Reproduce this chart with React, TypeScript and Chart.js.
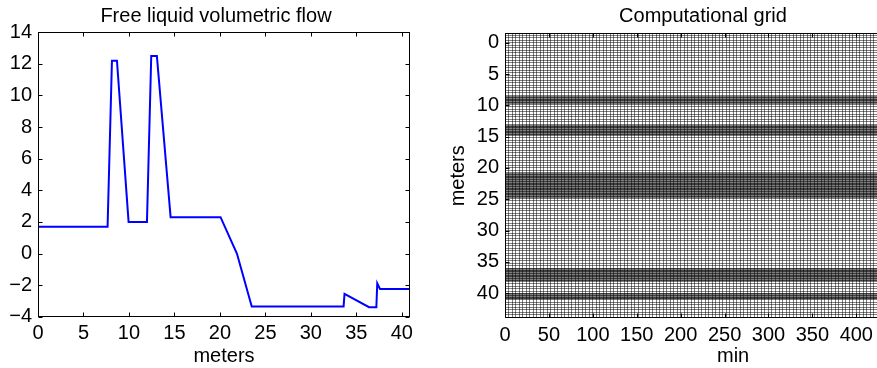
import React, { useEffect, useRef } from "react";
import { Chart, registerables } from "chart.js";
Chart.register(...registerables);

// ---- Left plot: free liquid volumetric flow ----
const flowX = [0, 7.65, 8.13, 8.68, 9.96, 11.98, 12.45, 13.07, 14.58, 20.07, 21.87, 23.5, 33.6, 33.7, 36.4, 37.2, 37.3, 37.6, 40.9];
const flowY = [1.7, 1.7, 12.2, 12.2, 2.0, 2.0, 12.5, 12.5, 2.3, 2.3, 0, -3.35, -3.35, -2.56, -3.4, -3.4, -1.89, -2.25, -2.25];
const flowXTicks = [0, 5, 10, 15, 20, 25, 30, 35, 40];
const flowYTicks = [-4, -2, 0, 2, 4, 6, 8, 10, 12, 14];

// ---- Right plot: computational grid ----
const gridTimeTicks = [0, 50, 100, 150, 200, 250, 300, 350, 400, 450, 500];
const gridDepthTicks = [0, 5, 10, 15, 20, 25, 30, 35, 40];
const gridTimes = [
  0, 4, 8, 12, 16, 20, 24, 28, 32, 36, 40, 44, 48, 52, 56, 60, 64, 68, 72, 76, 80, 84, 88, 92, 96,
  100, 104, 108, 112, 116, 120, 124, 128, 132, 136, 140, 144, 148, 152, 156, 160, 164, 168, 172, 176,
  180, 184, 188, 192, 196, 200, 204, 208, 212, 216, 220, 224, 228, 232, 236, 240, 244, 248, 252, 256,
  260, 264, 268, 272, 276, 280, 284, 288, 292, 296, 300, 304, 308, 312, 316, 320, 324, 328, 332, 336,
  340, 344, 348, 352, 356, 360, 364, 368, 372, 376, 380, 384, 388, 392, 396, 400, 404, 408, 412, 416,
  420, 424, 428, 432, 436, 440, 444, 448, 452, 456, 460, 464, 468, 472, 476, 480, 484, 488, 492, 496,
  500, 504, 508, 512, 516, 520,
];
const gridDepths = [
  -1.2, -0.8, -0.4, 0, 0.4, 0.8, 1.2, 1.6, 2, 2.4, 2.8, 3.2, 3.6, 4, 4.4, 4.8, 5.2, 5.6, 6, 6.4, 6.8, 7.2, 7.6, 8, 8.4,
  8.6, 8.7, 8.8, 8.9, 9, 9.1, 9.2, 9.3, 9.4, 9.5, 9.6, 9.7, 9.8,
  10.2, 10.6, 11, 11.4, 11.8, 12.2, 12.6,
  13.1, 13.2, 13.3, 13.4, 13.5, 13.6, 13.7, 13.8, 13.9, 14, 14.1, 14.2, 14.3, 14.4, 14.5, 14.6, 14.7, 14.8,
  15.2, 15.6, 16, 16.4, 16.8, 17.2, 17.6, 18, 18.4, 18.8, 19.2, 19.6, 20, 20.4,
  20.8, 20.9, 21, 21.1, 21.2, 21.3, 21.4, 21.5, 21.6, 21.7, 21.8, 21.9, 22, 22.1, 22.2, 22.3, 22.4, 22.5,
  22.6, 22.7, 22.8, 22.9, 23, 23.1, 23.2, 23.3, 23.4, 23.5, 23.6, 23.7, 23.8, 23.9, 24, 24.1, 24.2, 24.3,
  24.4, 24.5, 24.6, 24.7, 24.8,
  25.2, 25.6, 26, 26.4, 26.8, 27.2, 27.6, 28, 28.4, 28.8, 29.2, 29.6, 30, 30.4, 30.8, 31.2, 31.6, 32, 32.4,
  32.8, 33.2, 33.6, 34, 34.4, 34.8, 35.2, 35.6,
  36, 36.1, 36.2, 36.3, 36.4, 36.5, 36.6, 36.7, 36.8, 36.9, 37, 37.1, 37.2, 37.3, 37.4, 37.5, 37.6, 37.7,
  37.8, 37.9, 38, 38.1,
  38.5, 38.9, 39.3, 39.7,
  40, 40.1, 40.2, 40.3, 40.4, 40.5, 40.6, 40.7, 40.8, 40.9, 41,
  41.4, 41.8, 42.2, 42.6, 43, 43.4, 43.8,
];

const FONT = { family: '"Liberation Sans", Arial, Helvetica, sans-serif', size: 20 };
const fmt = (v: number) => (v < 0 ? "\u2212" + Math.abs(v) : String(v));

const frameTicks = {
  id: "frameTicks",
  afterDraw(chart: any, _args: any, opts: any) {
    const { ctx, chartArea: a } = chart;
    const xs = chart.scales[opts.xId];
    const ys = chart.scales[opts.yId];
    const L = Math.round(a.left) + 0.5;
    const R = Math.round(a.right) - 0.5;
    const T = Math.round(a.top) + 0.5;
    const B = Math.round(a.bottom) - 0.5;
    const len = 4;
    ctx.save();
    ctx.strokeStyle = "#000";
    ctx.lineWidth = 1;
    ctx.strokeRect(L, T, R - L, B - T);
    ctx.beginPath();
    xs.ticks.forEach((t: any) => {
      const x = Math.round(xs.getPixelForValue(t.value)) + 0.5;
      ctx.moveTo(x, B);
      ctx.lineTo(x, B - len);
      ctx.moveTo(x, T);
      ctx.lineTo(x, T + len);
    });
    ys.ticks.forEach((t: any) => {
      const y = Math.round(ys.getPixelForValue(t.value)) + 0.5;
      ctx.moveTo(L, y);
      ctx.lineTo(L + len, y);
      ctx.moveTo(R, y);
      ctx.lineTo(R - len, y);
    });
    ctx.stroke();
    ctx.restore();
  },
};

const setTicks = (arr: number[]) => (s: any) => {
  s.ticks = arr.map((v) => ({ value: v }));
};

export default function App() {
  const leftRef = useRef<HTMLCanvasElement>(null);
  const rightRef = useRef<HTMLCanvasElement>(null);

  useEffect(() => {
    const left = new Chart(leftRef.current as HTMLCanvasElement, {
      type: "line",
      data: {
        datasets: [
          {
            data: flowX.map((x, i) => ({ x, y: flowY[i] })),
            borderColor: "#0000ff",
            borderWidth: 2,
            pointRadius: 0,
            tension: 0,
            fill: false,
          },
        ],
      },
      options: {
        responsive: false,
        animation: false,
        layout: { padding: { left: 0, right: 0, top: 0, bottom: 0 } },
        plugins: {
          legend: { display: false },
          tooltip: { enabled: false },
          title: {
            display: true,
            text: "Free liquid volumetric flow",
            color: "#000",
            font: { ...FONT, weight: "normal" },
            padding: { top: 4.7, bottom: 3.6 },
          },
          frameTicks: { xId: "x", yId: "y" },
        } as any,
        scales: {
          x: {
            type: "linear",
            min: 0,
            max: 40.9,
            afterBuildTicks: setTicks(flowXTicks),
            afterFit: (s: any) => {
              s.height = 51.3;
            },
            grid: { display: false, drawTicks: false },
            border: { display: false },
            ticks: { color: "#000", font: FONT, padding: 5, maxRotation: 0, autoSkip: false, callback: (v: any) => fmt(v) },
            title: { display: true, text: "meters", color: "#000", font: FONT, padding: { top: 0, bottom: 0 } },
          },
          y: {
            type: "linear",
            position: "left",
            min: -4,
            max: 14,
            afterBuildTicks: setTicks(flowYTicks),
            afterFit: (s: any) => {
              s.width = 38;
            },
            grid: { display: false, drawTicks: false },
            border: { display: false },
            ticks: { color: "#000", font: FONT, padding: 6, autoSkip: false, callback: (v: any) => fmt(v) },
          },
          yr: {
            type: "linear",
            position: "right",
            min: -4,
            max: 14,
            afterFit: (s: any) => {
              s.width = 22;
            },
            grid: { display: false, drawTicks: false },
            border: { display: false },
            ticks: { display: false },
          },
        },
      },
      plugins: [frameTicks],
    });

    const right = new Chart(rightRef.current as HTMLCanvasElement, {
      type: "scatter",
      data: { datasets: [{ data: [], xAxisID: "x", yAxisID: "y" }] },
      options: {
        responsive: false,
        animation: false,
        layout: { padding: { left: 0, right: 0, top: 0, bottom: 0 } },
        plugins: {
          legend: { display: false },
          tooltip: { enabled: false },
          title: {
            display: true,
            text: "Computational grid",
            color: "#000",
            font: { ...FONT, weight: "normal" },
            padding: { top: 4.7, bottom: 4.6 },
          },
          frameTicks: { xId: "x", yId: "y" },
        } as any,
        scales: {
          xg: {
            type: "linear",
            position: "bottom",
            min: 0,
            max: 519.5,
            afterBuildTicks: setTicks(gridTimes),
            grid: { color: "rgba(0,0,0,0.5)", lineWidth: 1, drawTicks: false },
            border: { display: false },
            ticks: { display: false, autoSkip: false },
          },
          x: {
            type: "linear",
            position: "bottom",
            min: 0,
            max: 519.5,
            afterBuildTicks: setTicks(gridTimeTicks),
            afterFit: (s: any) => {
              s.height = 49.7;
            },
            grid: { display: false, drawTicks: false },
            border: { display: false },
            ticks: { color: "#000", font: FONT, padding: 5, maxRotation: 0, autoSkip: false },
            title: { display: true, text: "min", color: "#000", font: FONT, padding: { top: 0, bottom: 0 } },
          },
          yg: {
            type: "linear",
            position: "left",
            reverse: true,
            min: -1.5,
            max: 44,
            afterBuildTicks: setTicks(gridDepths),
            grid: { color: "rgba(0,0,0,0.5)", lineWidth: 1, drawTicks: false },
            border: { display: false },
            ticks: { display: false, autoSkip: false },
          },
          y: {
            type: "linear",
            position: "left",
            reverse: true,
            min: -1.5,
            max: 44,
            afterBuildTicks: setTicks(gridDepthTicks),
            afterFit: (s: any) => {
              s.width = 65;
            },
            grid: { display: false, drawTicks: false },
            border: { display: false },
            ticks: { color: "#000", font: FONT, padding: 6, autoSkip: false },
            title: { display: true, text: "meters", color: "#000", font: FONT, padding: { top: 6, bottom: 0 } },
          },
        },
      },
      plugins: [frameTicks],
    });

    return () => {
      left.destroy();
      right.destroy();
    };
  }, []);

  return (
    <div style={{ position: "absolute", left: 0, top: 0, width: 877, height: 368, overflow: "hidden", background: "#fff" }}>
      <div style={{ position: "absolute", left: 0, top: 0, width: 432, height: 368 }}>
        <canvas ref={leftRef} width={432} height={368} style={{ width: 432, height: 368, display: "block" }} />
      </div>
      <div style={{ position: "absolute", left: 440, top: 0, width: 526, height: 368 }}>
        <canvas ref={rightRef} width={526} height={368} style={{ width: 526, height: 368, display: "block" }} />
      </div>
    </div>
  );
}
